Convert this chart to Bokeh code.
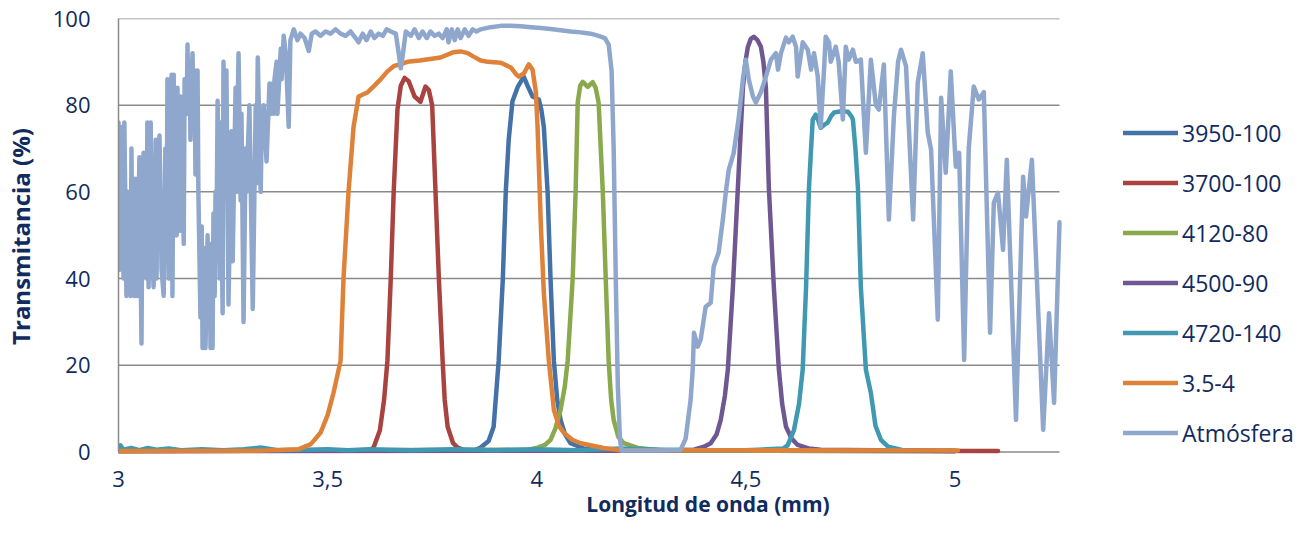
from bokeh.plotting import figure
from bokeh.models import Range1d, FixedTicker, Legend, LegendItem
from bokeh.embed import file_html
from bokeh.resources import INLINE

# ---------------- data ----------------
x_ticks = [3, 3.5, 4, 4.5, 5]
x_tick_labels = ["3", "3,5", "4", "4,5", "5"]
y_ticks = [0, 20, 40, 60, 80, 100]
x_axis_span = [3, 5.25]          # extent of the value axis (gridlines)

series_names = ["3950-100", "3700-100", "4120-80", "4500-90", "4720-140", "3.5-4", "Atmósfera"]
series_colors = ["#4571A9", "#A9433F", "#8AA84C", "#6F5891", "#4199B1", "#DE823A", "#8FA7CC"]

f3950_x = [3.0, 3.85, 3.866, 3.885, 3.897, 3.909, 3.919, 3.926, 3.933, 3.942, 3.955, 3.969,
           3.978, 3.990, 4.005, 4.011, 4.017, 4.026, 4.033, 4.041, 4.049, 4.057, 4.068,
           4.081, 4.112, 4.15, 5.0]
f3950_y = [0.2, 0.3, 1.0, 2.5, 5.8, 21, 40, 60, 72, 80.9, 84.3, 86.6,
           84.5, 82, 81.3, 79, 75, 60, 40, 21, 12, 7.4, 4,
           2, 0.8, 0.3, 0.2]

f3700_x = [3.0, 3.598, 3.610, 3.625, 3.635, 3.643, 3.651, 3.658, 3.667, 3.675, 3.684, 3.694,
           3.708, 3.722, 3.734, 3.742, 3.750, 3.758, 3.766, 3.775, 3.780, 3.787, 3.800,
           3.811, 3.83, 5.103]
f3700_y = [0.2, 0.3, 1.0, 5, 12, 21, 40, 60, 79, 84.5, 86.3, 85.5,
           82, 80.8, 84.3, 83.5, 80, 60, 40, 21, 12, 5.8, 2,
           1.0, 0.3, 0.2]

f4120_x = [3.0, 3.98, 4.002, 4.02, 4.033, 4.045, 4.057, 4.067, 4.074, 4.086, 4.093, 4.098,
           4.104, 4.110, 4.116, 4.122, 4.128, 4.134, 4.141, 4.148, 4.158, 4.165, 4.172,
           4.178, 4.184, 4.195, 4.208, 4.242, 4.3, 5.0]
f4120_y = [0.2, 0.5, 1.0, 1.6, 2.8, 5.5, 9.7, 15, 21, 40, 60, 80.6,
           84.5, 85.4, 84.8, 84.2, 84.8, 85.3, 84, 80.6, 60, 40, 21,
           12, 7.4, 3.5, 2, 0.9, 0.3, 0.2]

f4500_x = [3.0, 4.30, 4.376, 4.40, 4.416, 4.430, 4.440, 4.450, 4.457, 4.469, 4.481, 4.493,
           4.499, 4.505, 4.512, 4.519, 4.528, 4.536, 4.542, 4.548, 4.555, 4.567, 4.579,
           4.587, 4.596, 4.610, 4.624, 4.65, 4.679, 5.0]
f4500_y = [0.2, 0.3, 0.5, 1.2, 2, 4, 7.4, 13, 19, 38, 61, 84,
           90, 93.5, 95.3, 95.8, 95, 93.5, 90, 84, 61, 38, 19,
           11, 5.8, 3, 1.6, 0.8, 0.5, 0.2]

f4720_x = [3.0, 3.005, 3.012, 3.03, 3.05, 3.07, 3.09, 3.12, 3.15, 3.2, 3.25, 3.3, 3.34,
           3.38, 3.45, 3.5, 3.55, 3.6, 3.7, 3.8, 3.9, 4.0, 4.1, 4.2, 4.3, 4.4, 4.5, 4.55,
           4.59, 4.600, 4.615, 4.627, 4.636, 4.644, 4.651, 4.656, 4.660, 4.667, 4.673,
           4.679, 4.688, 4.696, 4.704, 4.711, 4.728, 4.744, 4.752, 4.756, 4.762, 4.768,
           4.775, 4.787, 4.799, 4.810, 4.823, 4.840, 4.871]
f4720_y = [0.6, 1.5, 0.5, 0.9, 0.4, 0.9, 0.5, 0.8, 0.4, 0.6, 0.4, 0.6, 1.0,
           0.4, 0.5, 0.6, 0.4, 0.6, 0.4, 0.6, 0.4, 0.6, 0.4, 0.8, 0.5, 0.4, 0.4, 0.6,
           0.8, 1.5, 5, 11, 19, 38, 61, 70, 76.7, 77.8, 76.5,
           74.8, 75.5, 76, 77.5, 78.3, 78.6, 78.5, 77.5, 76.7, 70, 61,
           38, 19, 13.6, 6, 2.8, 1.2, 0.5]

f354_x = [3.0, 3.35, 3.43, 3.46, 3.483, 3.50, 3.514, 3.531, 3.538, 3.550, 3.562, 3.574,
          3.596, 3.612, 3.627, 3.643, 3.658, 3.675, 3.691, 3.72, 3.77, 3.80, 3.818,
          3.835, 3.849, 3.866, 3.883, 3.914, 3.938, 3.950, 3.957, 3.969, 3.981, 3.990,
          3.998, 4.002, 4.010, 4.017, 4.029, 4.041, 4.053, 4.065, 4.085, 4.105, 4.160,
          4.2, 5.007]
f354_y = [0.2, 0.3, 0.6, 1.8, 4.4, 8.5, 13.6, 21, 40, 60, 75, 82,
          83, 84.5, 86, 87.8, 89, 89.5, 90, 90.3, 91, 92.2, 92.4,
          92, 91.2, 90.3, 90, 89.8, 88.7, 87.2, 86.6, 87.3, 89.4, 88.2,
          83, 75, 52, 36.7, 21, 9.7, 6, 4.4, 2.8, 2, 0.9,
          0.4, 0.3]

atm_x = [3.000, 3.002, 3.005, 3.007, 3.010, 3.012, 3.014, 3.019, 3.022, 3.024,
         3.026, 3.029, 3.031, 3.033, 3.036, 3.038, 3.041, 3.045, 3.050, 3.055,
         3.057, 3.060, 3.062, 3.067, 3.069, 3.072, 3.074, 3.077, 3.079, 3.084,
         3.089, 3.091, 3.093, 3.098, 3.103, 3.108, 3.112, 3.115, 3.117, 3.120,
         3.122, 3.127, 3.129, 3.132, 3.134, 3.136, 3.139, 3.141, 3.146, 3.148,
         3.151, 3.153, 3.156, 3.158, 3.163, 3.165, 3.167, 3.170, 3.172, 3.175,
         3.177, 3.179, 3.182, 3.184, 3.189, 3.191, 3.196, 3.199, 3.201, 3.203,
         3.206, 3.208, 3.213, 3.215, 3.218, 3.220, 3.222, 3.225, 3.227, 3.230,
         3.232, 3.234, 3.237, 3.242, 3.244, 3.249, 3.251, 3.254, 3.258, 3.263,
         3.270, 3.273, 3.280, 3.282, 3.287, 3.292, 3.294, 3.299, 3.304, 3.306,
         3.313, 3.321, 3.328, 3.330, 3.333, 3.340, 3.342, 3.347, 3.354, 3.361,
         3.364, 3.368, 3.371, 3.373, 3.378, 3.380, 3.388, 3.390, 3.395, 3.400,
         3.407, 3.411, 3.419, 3.428, 3.435, 3.445, 3.455, 3.462, 3.471, 3.483,
         3.495, 3.507, 3.519, 3.531, 3.543, 3.555, 3.567, 3.574, 3.584, 3.593,
         3.603, 3.612, 3.622, 3.632, 3.641, 3.651, 3.663, 3.670, 3.675, 3.679,
         3.687, 3.699, 3.708, 3.718, 3.727, 3.737, 3.746, 3.756, 3.766, 3.775,
         3.785, 3.789, 3.797, 3.804, 3.811, 3.818, 3.828, 3.837, 3.847, 3.856,
         3.866, 3.890, 3.914, 3.938, 3.962, 3.986, 4.010, 4.033, 4.057, 4.081,
         4.105, 4.129, 4.148, 4.163, 4.172, 4.179, 4.184, 4.189, 4.194, 4.199,
         4.203, 4.249, 4.297, 4.344, 4.356, 4.368, 4.373, 4.376, 4.385, 4.392,
         4.404, 4.416, 4.423, 4.435, 4.445, 4.452, 4.459, 4.471, 4.483, 4.493,
         4.500, 4.507, 4.517, 4.524, 4.536, 4.548, 4.560, 4.572, 4.577, 4.584,
         4.596, 4.603, 4.612, 4.620, 4.624, 4.636, 4.648, 4.656, 4.663, 4.672,
         4.679, 4.687, 4.691, 4.699, 4.703, 4.715, 4.722, 4.732, 4.739, 4.746,
         4.756, 4.763, 4.775, 4.787, 4.799, 4.811, 4.818, 4.830, 4.842, 4.854,
         4.864, 4.871, 4.883, 4.900, 4.911, 4.923, 4.935, 4.943, 4.959, 4.967,
         4.978, 4.990, 5.002, 5.010, 5.022, 5.033, 5.045, 5.057, 5.069, 5.084,
         5.093, 5.103, 5.115, 5.124, 5.146, 5.163, 5.170, 5.184, 5.211, 5.225,
         5.237, 5.250]
atm_y = [76, 42, 74, 44, 75, 40, 76, 36, 60, 38,
         58, 36, 70, 45, 55, 36, 63, 36, 68, 25,
         60, 69, 45, 40, 76, 38, 62, 76, 50, 38,
         72, 40, 64, 73, 42, 36, 70, 48, 86, 40,
         78, 87, 36, 87, 55, 78, 50, 84, 51, 82,
         55, 70, 48, 86, 78, 94, 80, 90, 72, 85,
         92, 82, 88, 64, 88, 60, 31, 52, 24, 35,
         47, 24, 50, 33, 48, 24, 40, 24, 55, 36,
         60, 45, 81, 40, 76, 32, 90, 62, 88, 34,
         74, 44, 84, 60, 92, 58, 78, 30, 70, 60,
         80, 33, 80, 62, 91, 60, 72, 80, 67, 85,
         78, 85, 78, 86, 90, 78, 93, 86, 96, 92,
         75, 95, 97.5, 95, 96.5, 95.5, 92.5, 96.5, 97, 96,
         97, 96.5, 97.5, 96.5, 96, 97, 95.5, 94.5, 96.5, 95,
         97, 95.5, 96.5, 96, 97.5, 97, 96.5, 92, 88.5, 91,
         97, 96, 97.5, 95.5, 97, 95.5, 97, 96, 96.5, 95.5,
         97.5, 94.5, 97.5, 95, 97.5, 95.5, 97.5, 96, 97.5, 97,
         97.5, 98, 98.3, 98.3, 98.2, 98, 97.8, 97.6, 97.3, 97,
         96.8, 96.5, 96, 95.5, 94, 88, 70, 40, 15, 3,
         0.3, 0.3, 0.3, 0.5, 3, 12, 19, 27.5, 24.3, 25.9,
         33.5, 34.4, 42.7, 46, 53.6, 59.8, 65, 69, 77, 86,
         90.5, 86, 82, 80.6, 83, 86.6, 90.5, 92, 88.2, 92,
         95.6, 94.5, 95.8, 93.5, 86.6, 94.5, 92.8, 88.2, 92, 86.6,
         75, 88.2, 95.8, 94.5, 90, 93.5, 90, 76.7, 93.5, 90.5,
         92.8, 90, 90.5, 69, 90.5, 80, 79, 89.4, 53.6, 77.4,
         90, 92.8, 89, 53.6, 85.2, 92, 73.7, 69.7, 30.5, 81.7,
         64.4, 87.8, 65.8, 69, 21.2, 70, 84.3, 81.3, 83, 27.5,
         57.5, 59.8, 46.6, 67.4, 7.4, 63.5, 54.3, 67.4, 5.1, 32,
         11.3, 53]

series_x = [f3950_x, f3700_x, f4120_x, f4500_x, f4720_x, f354_x, atm_x]
series_y = [f3950_y, f3700_y, f4120_y, f4500_y, f4720_y, f354_y, atm_y]

# ---------------- styling ----------------
NAVY = "#112B5E"
GRID = "#8A8A8A"
FONT = "Open Sans"

# frame is widened to the right so that the legend sits inside it;
# the value axis itself covers 3 .. 5.25 (941 px)
FRAME_W = 1179
x_end = x_axis_span[0] + (x_axis_span[1] - x_axis_span[0]) * FRAME_W / 941.0

p = figure(frame_width=FRAME_W, frame_height=436, output_backend="svg", toolbar_location=None,
           x_range=Range1d(x_axis_span[0], x_end), y_range=Range1d(-0.6, 100),
           min_border_left=110, min_border_right=2, min_border_top=18,
           min_border_bottom=40)
p.outline_line_color = None
p.background_fill_color = "white"
p.border_fill_color = "white"

p.xgrid.visible = False
p.ygrid.visible = False
# horizontal gridlines limited to the value axis extent
p.segment(x0=[x_axis_span[0]] * len(y_ticks), x1=[x_axis_span[1]] * len(y_ticks),
          y0=y_ticks, y1=y_ticks, line_color=GRID, line_width=1.5)

p.xaxis.ticker = FixedTicker(ticks=x_ticks)
p.xaxis.major_label_overrides = {t: l for t, l in zip(x_ticks, x_tick_labels)}
p.xaxis.axis_line_color = None
p.xaxis.major_tick_line_color = None
p.xaxis.minor_tick_line_color = None
p.xaxis.major_label_standoff = 10
p.xaxis.major_label_text_font = FONT
p.xaxis.major_label_text_font_size = "22px"
p.xaxis.major_label_text_color = NAVY
p.xaxis.axis_label = "Longitud de onda (mm)"
p.xaxis.axis_label_text_font = FONT
p.xaxis.axis_label_text_font_style = "bold"
p.xaxis.axis_label_text_font_size = "21px"
p.xaxis.axis_label_text_color = NAVY
p.xaxis.axis_label_standoff = 0

p.yaxis.ticker = FixedTicker(ticks=y_ticks)
p.yaxis.bounds = (y_ticks[0], y_ticks[-1])
p.yaxis.axis_line_color = GRID
p.yaxis.axis_line_width = 1.5
p.yaxis.major_tick_line_color = None
p.yaxis.minor_tick_line_color = None
p.yaxis.major_label_standoff = 22
p.yaxis.major_label_text_font = FONT
p.yaxis.major_label_text_font_size = "22px"
p.yaxis.major_label_text_color = NAVY
p.yaxis.axis_label = "Transmitancia (%)"
p.yaxis.axis_label_text_font = FONT
p.yaxis.axis_label_text_font_style = "bold"
p.yaxis.axis_label_text_font_size = "24px"
p.yaxis.axis_label_text_color = NAVY
p.yaxis.axis_label_standoff = 13

items = []
for name, color, xs, ys in zip(series_names, series_colors, series_x, series_y):
    r = p.line(xs, ys, line_color=color, line_width=4.5, line_join="round", line_cap="round")
    items.append(LegendItem(label=name, renderers=[r]))

legend = Legend(items=items, location=(1005, 5), orientation="vertical",
                glyph_width=55, glyph_height=33, label_height=33, spacing=17,
                label_standoff=4, padding=0, margin=0,
                border_line_alpha=0, background_fill_alpha=0,
                label_text_font=FONT, label_text_font_size="23px",
                label_text_color=NAVY)
p.add_layout(legend)

open("out.html", "w").write(file_html(p, INLINE))
